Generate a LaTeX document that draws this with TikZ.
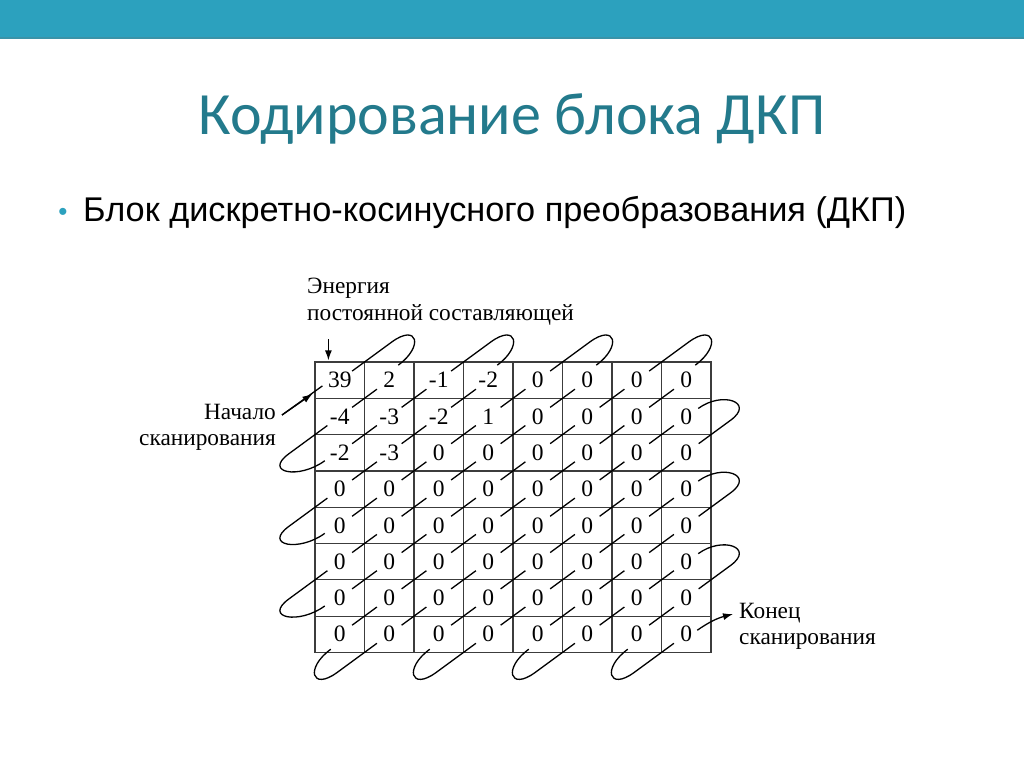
\documentclass[tikz,border=0pt]{standalone}
\usepackage{fontspec}
\setmainfont{Liberation Serif}
\newfontfamily\titlefont{Carlito}
\newfontfamily\bodyfont{Liberation Sans}
\usetikzlibrary{calc,arrows.meta}
\definecolor{barteal}{HTML}{2CA1BE}
\definecolor{barline}{HTML}{3A93A8}
\definecolor{titleteal}{HTML}{237A8C}
\definecolor{gridgray}{HTML}{3C3C3C}
\begin{document}
\begin{tikzpicture}[x=1pt,y=1pt,
  cell/.style={draw=gridgray, line width=1.2pt, minimum width=49.5pt, minimum height=36.3pt, inner sep=0pt, font=\fontsize{23.5}{23.5}\selectfont},
  scan/.style={line width=1.3pt, black},
  lbl/.style={font=\fontsize{23.3}{26.5}\selectfont, inner sep=0pt},
  arr/.style={line width=1.3pt, -{Latex[length=10pt,width=7pt]}}]
\useasboundingbox (0,0) rectangle (1024,-767);
\fill[white] (0,0) rectangle (1024,-767);
\fill[barteal] (0,0) rectangle (1024,-38);
\draw[barline, line width=1.2pt] (0,-38) -- (1024,-38);

% title and bullet
\node[anchor=base, text=titleteal, font=\titlefont\fontsize{60}{60}\selectfont, inner sep=0pt] (title) at (512,-135) {Кодирование блока ДКП};
\node[anchor=base, text=barteal, font=\bodyfont\fontsize{26}{26}\selectfont, inner sep=0pt] (bullet) at (63,-221) {•};
\node[anchor=base west, font=\bodyfont\fontsize{34.3}{34.3}\selectfont, inner sep=0pt] (subtitle) at (83,-222) {Блок дискретно-косинусного преобразования (ДКП)};

% grid cells
\foreach \v [count=\i from 0] in {39,2,-1,-2,0,0,0,0,
  -4,-3,-2,1,0,0,0,0,
  -2,-3,0,0,0,0,0,0,
  0,0,0,0,0,0,0,0,
  0,0,0,0,0,0,0,0,
  0,0,0,0,0,0,0,0,
  0,0,0,0,0,0,0,0,
  0,0,0,0,0,0,0,0}{
  \pgfmathtruncatemacro\r{div(\i,8)}
  \pgfmathtruncatemacro\c{mod(\i,8)}
  \node[cell] (n-\r-\c) at ({315+49.5*\c+24.75},{-(362+36.3*\r+18.15)}) {\v};
}

% diagonal scan segments
\foreach \r in {0,...,6}{
  \foreach \c in {1,...,7}{
    \pgfmathtruncatemacro\rr{\r+1}
    \pgfmathtruncatemacro\cc{\c-1}
    \draw[scan] ($(n-\r-\c.center)!0.25!(n-\rr-\cc.center)$) -- ($(n-\r-\c.center)!0.75!(n-\rr-\cc.center)$);
  }
}

% top loops
\foreach \c in {0,2,4,6}{
  \pgfmathtruncatemacro\cc{\c+1}
  \draw[scan] ($(n-0-\c.center)+0.25*(49.5,36.3)$) -- ($(n-0-\c.center)+1.05*(49.5,36.3)$)
    .. controls +(36.25:32) and +(36.25:32) .. ($(n-0-\cc.center)+(9,15)$);
}
% bottom loops
\foreach \c in {0,2,4,6}{
  \pgfmathtruncatemacro\cc{\c+1}
  \draw[scan] ($(n-7-\cc.center)-0.25*(49.5,36.3)$) -- ($(n-7-\cc.center)-1.05*(49.5,36.3)$)
    .. controls +(216.25:32) and +(216.25:32) .. ($(n-7-\c.center)+(-9,-15)$);
}
% left loops
\foreach \r in {1,3,5}{
  \pgfmathtruncatemacro\rr{\r+1}
  \draw[scan] ($(n-\r-0.center)-0.25*(49.5,36.3)$) -- ($(n-\r-0.center)-1.03*(49.5,36.3)$)
    .. controls +(216.25:32) and +(216.25:32) .. ($(n-\rr-0.center)+(-15,-8)$);
}
% right loops
\foreach \r in {1,3,5}{
  \pgfmathtruncatemacro\rr{\r+1}
  \draw[scan] ($(n-\rr-7.center)+0.25*(49.5,36.3)$) -- ($(n-\rr-7.center)+0.9*(49.5,36.3)$)
    .. controls +(36.25:30) and +(36.25:30) .. ($(n-\r-7.center)+(12,8)$);
}

% labels
\node[lbl, anchor=north west, align=left] (energy) at (307,-278) {Энергия\\постоянной составляющей};
\node[lbl, anchor=north east, align=right] (nachalo) at (276,-404) {Начало\\сканирования};
\node[lbl, anchor=north west, align=left] (konec) at (739,-603) {Конец\\сканирования};

% arrows
\coordinate (eTop) at ($(n-0-0.north west)+(14,22)$);
\coordinate (eTip) at ($(n-0-0.north west)+(14,1)$);
\draw[arr] (eTop) -- (eTip);

\coordinate (sA) at ($(nachalo.north east)+(6,-11)$);
\coordinate (sTip) at ($(n-0-0.south west)+(-2,5)$);
\coordinate (sEnd) at ($(n-0-0.south west)+(8,13)$);
\draw[scan] (sA) -- (sEnd);
\draw[arr] (sA) -- (sTip);

\coordinate (kTip) at ($(konec.north west)+(-6,-11)$);
\draw[arr] ($(n-7-7.center)+(11,4)$) to[out=35,in=195] (kTip);
\end{tikzpicture}
\end{document}
